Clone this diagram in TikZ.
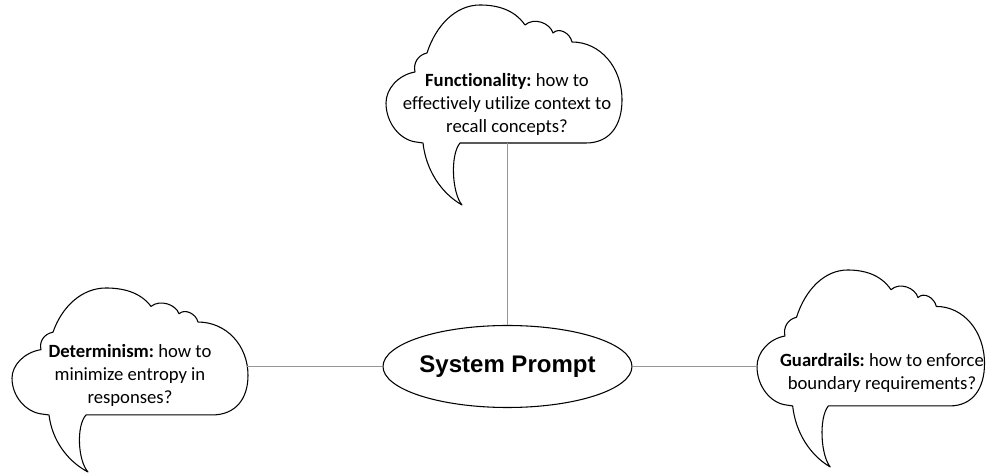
\documentclass[tikz,border=0pt]{standalone}
\usepackage{fontspec}
\setmainfont{Carlito}[Ligatures={NoCommon,NoRare,NoContextual}, RawFeature=-liga, RawFeature=-clig, RawFeature=-dlig]
\newfontfamily\arialfont{Liberation Sans}
\usetikzlibrary{shapes.geometric}
\frenchspacing
\definecolor{connGray}{RGB}{150,150,150}
\tikzset{
  cloudline/.style={draw=black, line width=0.8pt, fill=white, line join=round},
  conn/.style={draw=connGray, line width=0.75pt},
  cloudtext/.style={align=center, inner sep=0pt, font=\frenchspacing\fontsize{14}{17}\selectfont},
  centralnode/.style={ellipse, draw=black, line width=0.8pt, fill=white, inner sep=0pt,
    minimum width=183pt, minimum height=61.5pt,
    font=\arialfont\bfseries\fontsize{18}{21}\selectfont},
  cloudshape/.pic={
    \path[cloudline] (74,138) -- (200,138)
      .. controls (224,138) and (236,120) .. (236,95)
      .. controls (236,62) and (214,37) .. (186,37)
      .. controls (184,28) and (173,22) .. (167,28)
      .. controls (164,18) and (148,12) .. (139,20)
      .. controls (128,4) and (110,0) .. (94,0)
      .. controls (70,0) and (50,20) .. (41,48)
      .. controls (32,50) and (27,58) .. (29,67)
      .. controls (12,70) and (0,84) .. (0,98)
      .. controls (0,118) and (14,135) .. (30,137)
      -- (37,138)
      .. controls (40,165) and (55,188) .. (76,200)
      .. controls (66,188) and (64,150) .. (74,138) -- cycle;
  }
}
\begin{document}
\begin{tikzpicture}[x=0.75pt, y=-0.75pt]
\useasboundingbox (0,0) rectangle (986,473);
% clouds
\pic at (386,5) {cloudshape};
\pic[yscale=0.92] at (12,288) {cloudshape};
\pic[xscale=0.964, yscale=0.985] at (757,270) {cloudshape};
% attachment points on the clouds
\coordinate (funcEdge) at (507.5,142.7);
\coordinate (detEdge) at (247,366.5);
\coordinate (guardEdge) at (757,366.5);
% central node
\node[centralnode] (sp) at (507.5,366.5) {System Prompt};
% connectors
\draw[conn] (funcEdge) -- (sp.north);
\draw[conn] (detEdge) -- (sp.west);
\draw[conn] (sp.east) -- (guardEdge);
% cloud texts
\node[cloudtext] (func) at (507,104.5) {\textbf{Functionality:} how to\\effectively utilize context to\\recall concepts?};
\node[cloudtext] (det) at (130,375.5) {\textbf{Determinism:} how to\\minimize entropy in\\responses?};
\node[cloudtext] (guard) at (882,373) {\textbf{Guardrails:} how to enforce\\boundary requirements?};
\end{tikzpicture}
\end{document}
